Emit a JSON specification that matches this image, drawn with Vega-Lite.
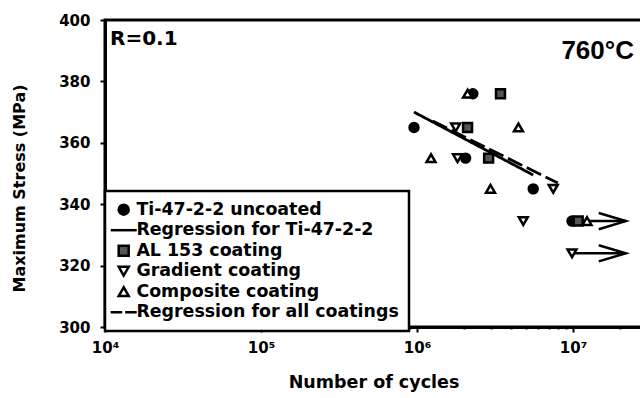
{
  "$schema": "https://vega.github.io/schema/vega-lite/v6.json",
  "width": 537,
  "height": 307,
  "autosize": {"type": "none"},
  "padding": {"left": 105, "top": 20, "right": 0, "bottom": 71},
  "config": {
    "font": "DejaVu Sans",
    "view": {"stroke": "black", "strokeWidth": 3},
    "axis": {
      "domainColor": "black", "domainWidth": 3, "tickColor": "black", "tickWidth": 2,
      "labelFont": "DejaVu Sans", "labelFontWeight": "bold", "labelFontSize": 15, "labelColor": "black",
      "titleFont": "DejaVu Sans", "titleFontWeight": "bold", "titleFontSize": 17, "titleColor": "black",
      "grid": false
    },
    "legend": {"strokeWidth": 2.5}
  },
  "layer": [
    {
      "data": {"values": [
        {"fit": "Ti", "cycles": 957000, "stress": 370.0},
        {"fit": "Ti", "cycles": 5560000, "stress": 349.5},
        {"fit": "all", "cycles": 1260000, "stress": 367.1},
        {"fit": "all", "cycles": 8000000, "stress": 346.9}
      ]},
      "mark": {"type": "line", "color": "black", "strokeWidth": 2.8},
      "encoding": {
        "x": {"field": "cycles", "type": "quantitative",
          "scale": {"type": "log", "domain": [10000, 27700000], "nice": false},
          "axis": {
            "title": "Number of cycles",
            "titleFontSize": 17.5,
            "values": [10000,20000,30000,40000,50000,60000,70000,80000,90000,100000,200000,300000,400000,500000,600000,700000,800000,900000,1000000,2000000,3000000,4000000,5000000,6000000,7000000,8000000,9000000,10000000,20000000],
            "labelExpr": "datum.value == 10000 ? '10⁴' : datum.value == 100000 ? '10⁵' : datum.value == 1000000 ? '10⁶' : datum.value == 10000000 ? '10⁷' : ''",
            "labelOverlap": false, "labelBound": false, "labelFlush": false,
            "tickSize": {"condition": {"test": "indexof([10000,100000,1000000,10000000], datum.value) >= 0", "value": 5}, "value": 2},
            "labelPadding": 8, "titlePadding": 18
          }
        },
        "y": {"field": "stress", "type": "quantitative",
          "scale": {"domain": [300, 400], "nice": false, "zero": false},
          "axis": {"title": "Maximum Stress (MPa)", "titleFontSize": 16, "titleY": 168, "values": [300,320,340,360,380,400], "tickSize": 5, "labelPadding": 10, "titlePadding": 31}
        },
        "strokeDash": {"field": "fit", "type": "nominal", "scale": {"domain": ["Ti", "all"], "range": [[1, 0], [16, 5]]}, "legend": null}
      }
    },
    {
      "data": {"values": [
        {"stress": 334.5, "from": 10000000, "to": 21800000},
        {"stress": 324, "from": 9860000, "to": 21800000}
      ]},
      "layer": [
        {"mark": {"type": "rule", "color": "black", "strokeWidth": 2.5},
         "encoding": {"x": {"field": "from", "type": "quantitative"}, "x2": {"field": "to"}, "y": {"field": "stress", "type": "quantitative"}}},
        {"mark": {"type": "point", "shape": "M-2,-0.6L0,0L-2,0.6", "size": 729, "filled": false, "color": "black", "strokeWidth": 2.5, "opacity": 1},
         "encoding": {"x": {"field": "to", "type": "quantitative"}, "y": {"field": "stress", "type": "quantitative"}}}
      ]
    },
    {
      "data": {"values": [
        {"series": "Ti-47-2-2 uncoated", "cycles": 957000, "stress": 365},
        {"series": "Ti-47-2-2 uncoated", "cycles": 2050000, "stress": 355},
        {"series": "Ti-47-2-2 uncoated", "cycles": 2280000, "stress": 376},
        {"series": "Ti-47-2-2 uncoated", "cycles": 5560000, "stress": 345},
        {"series": "Ti-47-2-2 uncoated", "cycles": 9860000, "stress": 334.5},
        {"series": "AL 153 coating", "cycles": 2110000, "stress": 365},
        {"series": "AL 153 coating", "cycles": 2880000, "stress": 355},
        {"series": "AL 153 coating", "cycles": 3430000, "stress": 376},
        {"series": "AL 153 coating", "cycles": 10800000, "stress": 334.5},
        {"series": "Gradient coating", "cycles": 1770000, "stress": 365},
        {"series": "Gradient coating", "cycles": 1820000, "stress": 355},
        {"series": "Gradient coating", "cycles": 4800000, "stress": 334.5},
        {"series": "Gradient coating", "cycles": 7470000, "stress": 345},
        {"series": "Gradient coating", "cycles": 9860000, "stress": 324},
        {"series": "Composite coating", "cycles": 1230000, "stress": 355},
        {"series": "Composite coating", "cycles": 2110000, "stress": 376},
        {"series": "Composite coating", "cycles": 2960000, "stress": 345},
        {"series": "Composite coating", "cycles": 4470000, "stress": 365},
        {"series": "Composite coating", "cycles": 12300000, "stress": 334.5}
      ]},
      "mark": {"type": "point", "filled": false, "strokeWidth": 2.5, "size": 80, "opacity": 1},
      "encoding": {
        "x": {"field": "cycles", "type": "quantitative"},
        "y": {"field": "stress", "type": "quantitative"},
        "shape": {"field": "series", "type": "nominal",
          "scale": {"domain": ["Ti-47-2-2 uncoated", "Regression for Ti-47-2-2", "AL 153 coating", "Gradient coating", "Composite coating", "Regression for all coatings"],
                    "range": ["circle", "M-2.6,0H2.6", "square", "triangle-down", "triangle-up", "M-2.6,0H-0.3M0.3,0H2.6"]},
          "legend": {"title": null, "orient": "none", "legendX": 0, "legendY": 171, "symbolSize": 100, "symbolStrokeWidth": 2.5, "symbolStrokeColor": "black",
                     "labelFont": "DejaVu Sans", "labelFontWeight": "bold", "labelFontSize": 17.4, "labelColor": "black", "labelLimit": 500, "labelOffset": 4,
                     "padding": 10, "rowPadding": 0.5, "strokeColor": "black", "fillColor": "white"}
        },
        "fill": {"field": "series", "type": "nominal",
          "scale": {"domain": ["Ti-47-2-2 uncoated", "Regression for Ti-47-2-2", "AL 153 coating", "Gradient coating", "Composite coating", "Regression for all coatings"],
                    "range": ["black", "black", "#555555", "white", "white", "black"]},
          "legend": {"title": null, "orient": "none", "legendX": 0, "legendY": 171, "symbolSize": 100, "symbolStrokeWidth": 2.5, "symbolStrokeColor": "black",
                     "labelFont": "DejaVu Sans", "labelFontWeight": "bold", "labelFontSize": 17.4, "labelColor": "black", "labelLimit": 500, "labelOffset": 4,
                     "padding": 10, "rowPadding": 0.5, "strokeColor": "black", "fillColor": "white"}
        },
        "stroke": {"field": "series", "type": "nominal",
          "scale": {"domain": ["Ti-47-2-2 uncoated", "Regression for Ti-47-2-2", "AL 153 coating", "Gradient coating", "Composite coating", "Regression for all coatings"],
                    "range": ["black", "black", "black", "black", "black", "black"]},
          "legend": {"title": null, "orient": "none", "legendX": 0, "legendY": 171, "symbolSize": 100, "symbolStrokeWidth": 2.5, "symbolStrokeColor": "black",
                     "labelFont": "DejaVu Sans", "labelFontWeight": "bold", "labelFontSize": 17.4, "labelColor": "black", "labelLimit": 500, "labelOffset": 4,
                     "padding": 10, "rowPadding": 0.5, "strokeColor": "black", "fillColor": "white"}
        }
      }
    },
    {
      "data": {"values": [{}]},
      "mark": {"type": "text", "align": "left", "baseline": "alphabetic", "font": "DejaVu Sans", "fontWeight": "bold", "fontSize": 20, "color": "black"},
      "encoding": {"x": {"datum": 10770}, "y": {"datum": 391.9}, "text": {"value": "R=0.1"}}
    },
    {
      "data": {"values": [{}]},
      "mark": {"type": "text", "align": "right", "baseline": "alphabetic", "font": "Liberation Sans", "fontWeight": "bold", "fontSize": 26, "color": "black"},
      "encoding": {"x": {"datum": 24600000}, "y": {"datum": 387.3}, "text": {"value": "760°C"}}
    }
  ]
}
